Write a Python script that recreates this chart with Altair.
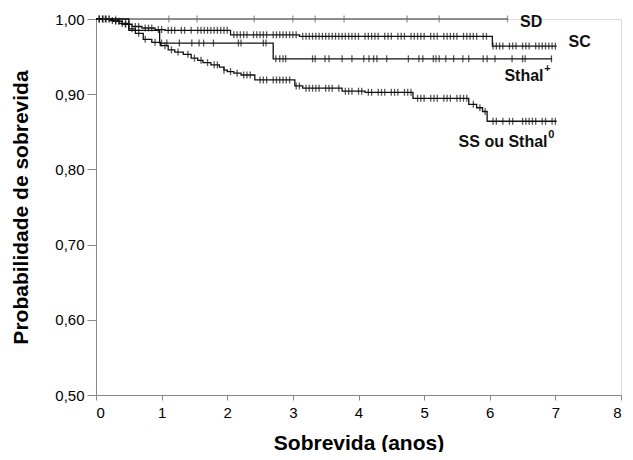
import altair as alt
import pandas as pd

# ---------------- data ----------------
GROUPS = ["SD", "SC", "Sthal+", "SS ou Sthal0"]
COLORS = ["#6e6e6e", "#111111", "#111111", "#111111"]

# step points (time in years, survival probability)
SD_T = [0.0, 6.28]
SD_S = [1.0, 1.0]
SD_CENS = [0.05, 0.12, 0.2, 0.3, 1.11, 1.54, 2.41, 3.0, 3.34, 3.78, 4.74, 5.23, 6.27]

SC_T = [0.0, 0.25, 0.4, 0.55, 0.7, 0.9, 1.05, 2.05, 3.1, 6.04, 7.02]
SC_S = [1.0, 0.997, 0.993, 0.99, 0.988, 0.986, 0.985, 0.979, 0.977, 0.964, 0.964]
SC_CENS = [0.05, 0.1, 0.15, 0.2, 0.3, 0.35, 0.45, 0.5, 0.6, 0.65, 0.75, 0.8, 0.85,
           0.95, 1.0, 1.1, 1.15, 1.2, 1.3, 1.35, 1.45, 1.55, 1.6, 1.65, 1.7, 1.75,
           1.8, 1.85, 1.9, 1.95, 2.0, 2.1, 2.15, 2.2, 2.25, 2.3, 2.4, 2.45, 2.5,
           2.55, 2.6, 2.7, 2.75, 2.8, 2.85, 2.9, 2.95, 3.0, 3.05, 3.15, 3.2, 3.25,
           3.3, 3.35, 3.4, 3.45, 3.5, 3.55, 3.6, 3.65, 3.7, 3.75, 3.8, 3.85, 3.9,
           3.95, 4.0, 4.1, 4.15, 4.2, 4.25, 4.3, 4.4, 4.45, 4.5, 4.6, 4.65, 4.7,
           4.8, 4.85, 4.9, 4.95, 5.0, 5.1, 5.15, 5.2, 5.3, 5.35, 5.4, 5.45, 5.5,
           5.6, 5.65, 5.7, 5.75, 5.8, 5.9, 5.95, 6.05, 6.1, 6.15, 6.2, 6.3, 6.35,
           6.4, 6.5, 6.55, 6.6, 6.7, 6.75, 6.8, 6.85, 6.9, 6.95, 7.0]

STH_T = [0.0, 0.5, 0.97, 2.7, 6.95]
STH_S = [1.0, 0.985, 0.968, 0.947, 0.947]
STH_CENS = [1.0, 1.08, 1.27, 1.46, 1.57, 1.64, 1.79, 2.17, 2.21, 2.55, 2.59, 2.74,
            2.8, 2.85, 2.89, 3.3, 3.34, 3.49, 3.55, 3.75, 3.9, 4.08, 4.16, 4.23,
            4.28, 4.43, 4.76, 4.92, 4.98, 5.14, 5.18, 5.23, 5.33, 5.45, 5.59, 5.68,
            5.9, 5.96, 6.08, 6.34, 6.5, 6.54, 6.94]

SS_T = [0.0, 0.2, 0.35, 0.5, 0.6, 0.72, 0.85, 0.98, 1.1, 1.2, 1.33, 1.45, 1.55,
        1.63, 1.75, 1.88, 1.95, 2.0, 2.1, 2.21, 2.42, 3.03, 3.15, 3.75, 4.1, 4.83,
        5.68, 5.8, 5.89, 5.96, 7.02]
SS_S = [1.0, 0.998, 0.994, 0.987, 0.981, 0.973, 0.969, 0.9645, 0.959, 0.956, 0.953,
        0.948, 0.945, 0.942, 0.939, 0.936, 0.932, 0.93, 0.928, 0.9255, 0.919, 0.911,
        0.908, 0.904, 0.9025, 0.8945, 0.8866, 0.882, 0.877, 0.864, 0.864]
SS_CENS = [0.05, 0.1, 0.15, 0.25, 0.3, 0.4, 0.45, 0.55, 0.65, 0.75, 0.9, 1.05, 1.15,
           1.25, 1.4, 1.5, 1.6, 1.7, 1.8, 1.85, 1.95, 2.05, 2.15, 2.25, 2.3, 2.35,
           2.5, 2.55, 2.6, 2.7, 2.75, 2.8, 2.85, 2.9, 2.95, 3.05, 3.1, 3.2, 3.25,
           3.3, 3.35, 3.4, 3.5, 3.55, 3.6, 3.7, 3.8, 3.85, 3.9, 4.0, 4.05, 4.15,
           4.2, 4.3, 4.35, 4.4, 4.5, 4.55, 4.6, 4.7, 4.75, 4.8, 4.9, 4.95, 5.0,
           5.1, 5.15, 5.2, 5.3, 5.35, 5.4, 5.5, 5.55, 5.6, 5.65, 5.75, 5.85, 5.93,
           6.05, 6.1, 6.2, 6.3, 6.35, 6.5, 6.55, 6.6, 6.65, 6.7, 6.8, 6.85, 6.95, 7.0]

X_TICKS = [0, 1, 2, 3, 4, 5, 6, 7, 8]
Y_TICKS = [0.5, 0.6, 0.7, 0.8, 0.9, 1.0]

# ---------------- tables ----------------
series = {
    "SD": (SD_T, SD_S, SD_CENS),
    "SC": (SC_T, SC_S, SC_CENS),
    "Sthal+": (STH_T, STH_S, STH_CENS),
    "SS ou Sthal0": (SS_T, SS_S, SS_CENS),
}


def surv_at(ts, ss, t):
    v = ss[0]
    for ti, si in zip(ts, ss):
        if ti <= t:
            v = si
    return v


line_rows, cens_rows = [], []
for g, (ts, ss, cs) in series.items():
    for i, (t, s) in enumerate(zip(ts, ss)):
        line_rows.append({"g": g, "t": t, "s": s, "o": i})
    for c in cs:
        cens_rows.append({"g": g, "t": c, "s": surv_at(ts, ss, c)})

lines_df = pd.DataFrame(line_rows)
cens_df = pd.DataFrame(cens_rows)

labels_main = pd.DataFrame({
    "txt": ["SD", "SC", "Sthal", "SS ou Sthal"],
    "t": [6.80, 7.54, 6.82, 6.88],
    "s": [0.996, 0.9694, 0.924, 0.8364],
})
labels_sup = pd.DataFrame({
    "txt": ["+", "0"],
    "t": [6.83, 6.89],
    "s": [0.933, 0.846],
})

FONT = "Liberation Sans"

xenc = alt.X("t:Q", scale=alt.Scale(domain=[0, 8], nice=False, zero=False),
             axis=alt.Axis(values=X_TICKS, title="Sobrevida (anos)", grid=False,
                           tickSize=5, labelFontSize=15, labelPadding=5,
                           titleFontSize=21, titleFontWeight="bold",
                           titlePadding=12, format="d"))
yenc = alt.Y("s:Q", scale=alt.Scale(domain=[0.5, 1.0], nice=False, zero=False),
             axis=alt.Axis(values=Y_TICKS, title="Probabilidade de sobrevida",
                           grid=False, tickSize=9, labelFontSize=15, labelPadding=3,
                           labelExpr="replace(format(datum.value, '.2f'), '.', ',')",
                           titleFontSize=21, titleFontWeight="bold",
                           titlePadding=23))
color = alt.Color("g:N", scale=alt.Scale(domain=GROUPS, range=COLORS), legend=None)

lines = alt.Chart(lines_df).mark_line(interpolate="step-after", strokeWidth=1.3).encode(
    x=xenc, y=yenc, color=color, detail="g:N", order="o:Q")

ticks = alt.Chart(cens_df).mark_tick(orient="vertical", size=7, thickness=1.3).encode(
    x="t:Q", y="s:Q", color=color)

txt_main = alt.Chart(labels_main).mark_text(
    align="right", baseline="middle", font=FONT, fontSize=16, fontWeight="bold",
    color="#111111").encode(x="t:Q", y="s:Q", text="txt:N")
txt_sup = alt.Chart(labels_sup).mark_text(
    align="left", baseline="middle", font=FONT, fontSize=11, fontWeight="bold",
    color="#111111").encode(x="t:Q", y="s:Q", text="txt:N")

chart = alt.layer(lines, ticks, txt_main, txt_sup).properties(
    width=525, height=376,
    autosize=alt.AutoSizeParams(type="none"),
    padding={"left": 88, "top": 11, "right": 4, "bottom": 57},
).configure_view(stroke=None).configure_axis(
    domainColor="#333333", tickColor="#333333", labelColor="#111111",
    titleColor="#111111", labelFont=FONT, titleFont=FONT, domainWidth=1.2,
).configure(background="white")

chart.save("out.html", embed_options={"renderer": "svg", "actions": False})
